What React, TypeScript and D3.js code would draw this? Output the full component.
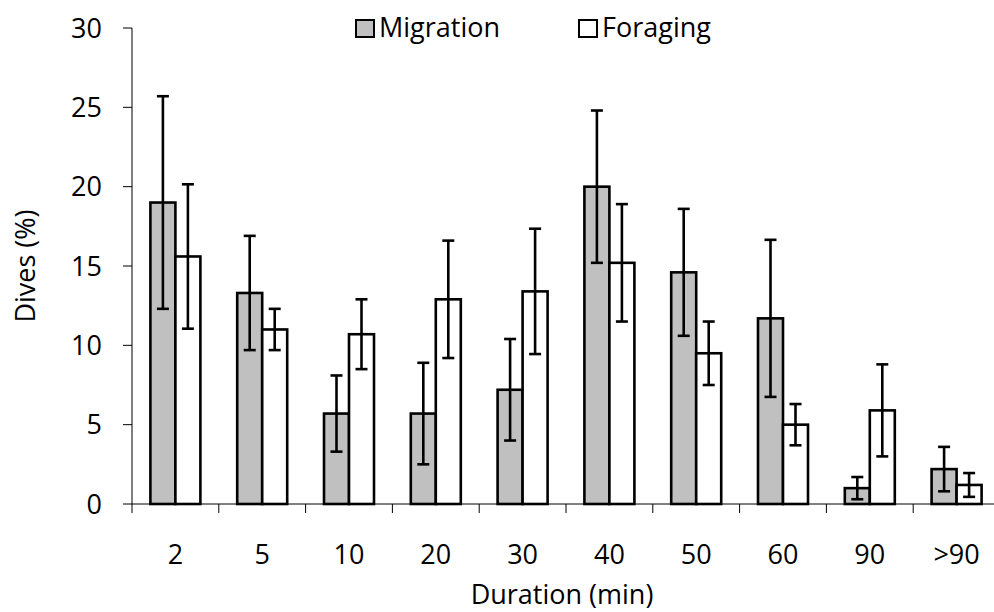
import React from "react";
import * as d3 from "d3";

const categories = ["2", "5", "10", "20", "30", "40", "50", "60", "90", ">90"];
const seriesNames = ["Migration", "Foraging"];
const migration = [19.0, 13.3, 5.7, 5.7, 7.2, 20.0, 14.6, 11.7, 1.0, 2.2];
const migrationErr = [6.7, 3.6, 2.4, 3.2, 3.2, 4.8, 4.0, 4.95, 0.7, 1.4];
const foraging = [15.6, 11.0, 10.7, 12.9, 13.4, 15.2, 9.5, 5.0, 5.9, 1.2];
const foragingErr = [4.55, 1.3, 2.2, 3.7, 3.95, 3.7, 2.0, 1.3, 2.9, 0.75];
const yTicks = [0, 5, 10, 15, 20, 25, 30];

const fills = ["#c0c0c0", "#ffffff"];
const font = "'Open Sans', Lato, sans-serif";
const fs = 27;

const App = () => {
  const width = 994;
  const height = 612;
  const left = 132;
  const bottom = 504;

  const x = d3.scaleBand().domain(categories).range([left, left + 868]);
  const sub = d3
    .scaleBand()
    .domain(seriesNames)
    .range([0, x.bandwidth()])
    .paddingOuter(0.736);
  const y = d3.scaleLinear().domain([0, 30]).range([bottom, 28]);

  const series = [
    { name: "Migration", values: migration, err: migrationErr },
    { name: "Foraging", values: foraging, err: foragingErr },
  ];

  return (
    <svg
      width={width}
      height={height}
      style={{ position: "absolute", left: 0, top: 0 }}
      fontFamily={font}
    >
      {/* bars */}
      {series.map((s, si) =>
        s.values.map((v, i) => {
          const bx = (x(categories[i]) as number) + (sub(s.name) as number);
          return (
            <rect
              key={s.name + i}
              x={bx}
              y={y(v)}
              width={sub.bandwidth()}
              height={bottom - y(v)}
              fill={fills[si]}
              stroke="#000"
              strokeWidth={2.6}
            />
          );
        })
      )}

      {/* error bars */}
      {series.map((s) =>
        s.values.map((v, i) => {
          const cx =
            (x(categories[i]) as number) +
            (sub(s.name) as number) +
            sub.bandwidth() / 2;
          const hi = y(v + s.err[i]);
          const lo = y(v - s.err[i]);
          return (
            <g key={"e" + s.name + i} stroke="#000" strokeWidth={2.6}>
              <line x1={cx} x2={cx} y1={hi} y2={lo} />
              <line x1={cx - 6} x2={cx + 6} y1={hi} y2={hi} />
              <line x1={cx - 6} x2={cx + 6} y1={lo} y2={lo} />
            </g>
          );
        })
      )}

      {/* y axis */}
      <line x1={left} x2={left} y1={y(30)} y2={bottom} stroke="#000" strokeWidth={1} />
      {yTicks.map((t) => (
        <g key={"y" + t}>
          <line x1={left - 9} x2={left} y1={y(t)} y2={y(t)} stroke="#000" />
          <text
            x={102}
            y={y(t)}
            dy="0.36em"
            textAnchor="end"
            fontSize={fs}
            fill="#000"
          >
            {t}
          </text>
        </g>
      ))}

      {/* x axis */}
      <line x1={left} x2={width} y1={bottom} y2={bottom} stroke="#000" strokeWidth={1} />
      {categories.map((c) => (
        <g key={"x" + c}>
          <line
            x1={x(c) as number}
            x2={x(c) as number}
            y1={bottom}
            y2={bottom + 9}
            stroke="#000"
          />
          <text
            x={(x(c) as number) + x.bandwidth() / 2}
            y={554.5}
            dy="0.36em"
            textAnchor="middle"
            fontSize={fs}
            fill="#000"
          >
            {c}
          </text>
        </g>
      ))}

      {/* axis titles */}
      <text x={562} y={594} dy="0.36em" textAnchor="middle" fontSize={fs}>
        Duration (min)
      </text>
      <text
        transform={`translate(25,${(y(30) + bottom) / 2}) rotate(-90)`}
        dy="0.36em"
        textAnchor="middle"
        fontSize={fs}
      >
        Dives (%)
      </text>

      {/* legend */}
      {seriesNames.map((n, i) => {
        const lx = [356, 579][i];
        return (
          <g key={"l" + n}>
            <rect
              x={lx}
              y={20}
              width={18}
              height={17}
              fill={fills[i]}
              stroke="#000"
              strokeWidth={2}
            />
            <text x={lx + 23} y={27.5} dy="0.36em" fontSize={fs}>
              {n}
            </text>
          </g>
        );
      })}
    </svg>
  );
};

export default App;
